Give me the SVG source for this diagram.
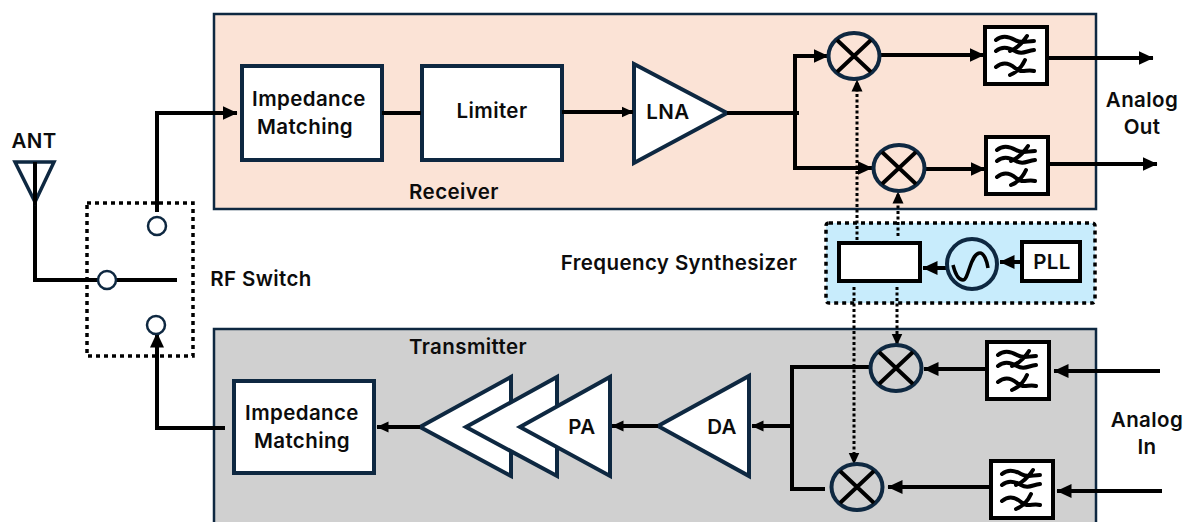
<svg xmlns="http://www.w3.org/2000/svg" width="1186" height="522" viewBox="0 0 1186 522">
<style>
text{font-family:Inter,"Noto Sans","Liberation Sans",sans-serif;font-weight:600;font-size:20.5px;letter-spacing:.4px;fill:#0c0c0c;text-anchor:middle}
.b{fill:#fff;stroke:#0e2841;stroke-width:4}
.k{fill:#fff;stroke:#000;stroke-width:4}
.w{fill:none;stroke:#000;stroke-width:4}
.d{fill:none;stroke:#000;stroke-width:3;stroke-dasharray:3 2.5}
.c{fill:#fff;stroke:#0e2841;stroke-width:2.5}
.box{stroke-dasharray:4 4;stroke:#000;stroke-width:3.5}
</style>
<defs>
<marker id="a" markerUnits="userSpaceOnUse" markerWidth="16" markerHeight="16" refX="14.5" refY="8" orient="auto"><path d="M0 1L15 8L0 15Z" fill="#000"/></marker>
<marker id="s" markerUnits="userSpaceOnUse" markerWidth="13" markerHeight="13" refX="11.5" refY="6.5" orient="auto"><path d="M0 1L12 6.5L0 12Z" fill="#000"/></marker>
<g id="mx"><ellipse rx="25.5" ry="23" fill="none" stroke="#0e2841" stroke-width="4"/><path d="M-17-16L17 16M17-16L-17 16" stroke="#000" stroke-width="4" fill="none"/></g>
<g id="fl"><rect x="-31" y="-28" width="62" height="57" class="k"/><path d="M-20-15C-14-20-8-19-1-15S10-14 18-14M-6-4Q4-8 11-19M-20-4C-14-9-8-8-1-4S10-4 18-5M-20 12C-14 7-8 7-1 13S10 14 18 16M-6 20Q4 16 9 5" fill="none" stroke="#000" stroke-width="4" stroke-linecap="round"/></g>
</defs>
<rect x="214" y="14" width="882" height="195" fill="#fbe3d6" stroke="#0e2841" stroke-width="2.5"/>
<rect x="214" y="329" width="882" height="205" fill="#d0d0d0" stroke="#0e2841" stroke-width="2.5"/>
<rect id="synth-bg" x="826" y="223" width="269" height="80" rx="3" fill="#c8ecfc" class="box"/>
<rect id="switch-box" x="87" y="203" width="106" height="153" fill="none" class="box"/>
<g id="nodes-under">
<g id="lna"><path class="b" d="M634 64L727 113L634 163Z"/><text x="668" y="119">LNA</text></g>
<g id="im-rx"><rect class="b" x="242" y="66" width="140" height="94"/><text x="309" y="106">Impedance</text><text x="305" y="134">Matching</text></g>
<g id="limiter"><rect class="b" x="422" y="66" width="140" height="94"/><text x="492" y="118">Limiter</text></g>
<g id="im-tx"><rect class="b" x="234" y="381" width="140" height="92"/><text x="302" y="420">Impedance</text><text x="302" y="448">Matching</text></g>
<g id="pa"><path class="b" d="M511 377V476L420 427Z"/><path class="b" d="M557 377V476L466 427Z"/><path class="b" d="M610 377V476L520 427Z"/><text x="582" y="434">PA</text></g>
<g id="da"><path class="b" d="M749 376V476L658 426Z"/><text x="722" y="434">DA</text></g>
</g>
<g id="connectors">
<path class="w" d="M35 190V280H177"/>
<path class="w" d="M157 212V113H237" marker-end="url(#a)"/>
<path class="w" d="M225 428H157V333" marker-end="url(#a)"/>
<path class="w" d="M382 113H421"/>
<path class="w" d="M562 112H633" marker-end="url(#s)"/>
<path class="w" d="M727 113H799"/>
<path class="w" d="M795 113V168H872" marker-end="url(#a)"/>
<path class="w" d="M795 113V56H828" marker-end="url(#a)"/>
<path class="w" d="M881 55H984" marker-end="url(#a)"/>
<path class="w" d="M926 169H985" marker-end="url(#a)"/>
<path class="w" d="M1048 58H1153" marker-end="url(#a)"/>
<path class="w" d="M1050 164H1157" marker-end="url(#a)"/>
<path class="w" d="M1160 371H1054" marker-end="url(#a)"/>
<path class="w" d="M1162 491H1057" marker-end="url(#a)"/>
<path class="w" d="M985 369H924" marker-end="url(#a)"/>
<path class="w" d="M993 487H888" marker-end="url(#a)"/>
<path class="w" d="M870 367H792V489H825"/>
<path class="w" d="M792 426H752" marker-end="url(#s)"/>
<path class="w" d="M658 426H612" marker-end="url(#s)"/>
<path class="w" d="M420 427H377" marker-end="url(#s)"/>
<path class="d" d="M857 240V80" marker-end="url(#s)"/>
<path class="d" d="M898 236V192" marker-end="url(#s)"/>
<path class="d" d="M854 287V464" marker-end="url(#s)"/>
<path class="d" d="M897 287V345" marker-end="url(#s)"/>
<path class="w" d="M946 268H923" marker-end="url(#a)"/>
<path class="w" d="M1022 262H1000" marker-end="url(#a)"/>
</g>
<g id="ant"><path d="M15 162H54L35 202Z" fill="none" stroke="#0e2841" stroke-width="3.5"/><path class="w" d="M35 162V205"/><text x="34" y="148">ANT</text></g>
<g id="sw"><circle class="c" cx="157" cy="226" r="9"/><circle class="c" cx="107" cy="280" r="9"/><circle class="c" cx="156" cy="325" r="9"/><text x="261" y="286">RF Switch</text></g>
<text x="454" y="199">Receiver</text>
<text x="468" y="354">Transmitter</text>
<text x="679" y="270">Frequency Synthesizer</text>
<g id="mx1"><use href="#mx" x="854" y="56"/></g>
<g id="mx2"><use href="#mx" x="899" y="168"/></g>
<g id="mx3"><use href="#mx" x="896" y="368"/></g>
<g id="mx4"><use href="#mx" x="857" y="487"/></g>
<g id="f1"><use href="#fl" x="1016" y="55"/></g>
<g id="f2"><use href="#fl" x="1017" y="165"/></g>
<g id="f3"><use href="#fl" x="1018" y="370"/></g>
<g id="f4"><use href="#fl" x="1022" y="489"/></g>
<text x="1142" y="107">Analog</text><text x="1142" y="134">Out</text>
<text x="1147" y="427">Analog</text><text x="1147" y="454">In</text>
<g id="divider"><rect class="k" x="839" y="243" width="81" height="38"/></g>
<g id="vco"><circle cx="972" cy="264" r="25" fill="#fff" fill-opacity="0" stroke="#0e2841" stroke-width="4"/><path d="M953 265C956 277 960 280 963 280C969 280 970 253 980 253C984 253 987 261 988 268" fill="none" stroke="#000" stroke-width="3.5"/></g>
<g id="pll"><rect class="k" x="1022" y="242" width="58" height="39"/><text x="1052" y="269">PLL</text></g>
</svg>
